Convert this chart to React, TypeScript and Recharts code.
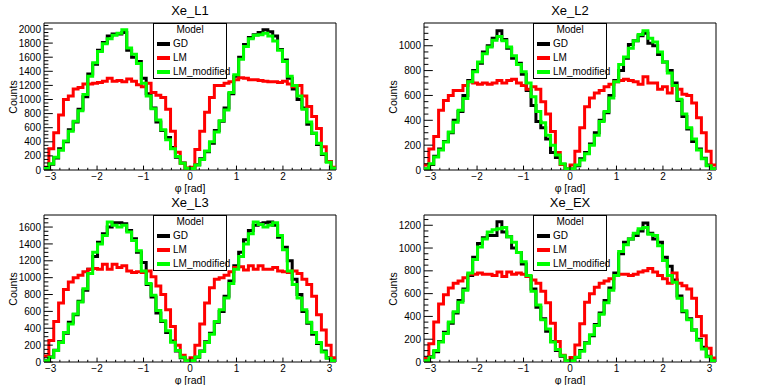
import React from 'react';
import { LineChart, Line, XAxis, YAxis, ReferenceArea } from 'recharts';

// ---------- data (60 bins from -pi to pi) ----------
const N_BINS = 60;
const X_MINOR_STEP = 0.2;
const SERIES_NAMES = ['GD', 'LM', 'LM_modified'];
const SERIES_COLORS = ['#000000', '#ff0000', '#00ff00'];
const PANEL_TITLES = ['Xe_L1', 'Xe_L2', 'Xe_L3', 'Xe_EX'];
const PANEL_YMAX = [2085, 1183, 1743, 1290];
const PANEL_YMAJOR = [200, 200, 200, 200];
const PANEL_YMINOR = [50, 50, 50, 50];

const L1_GD = [25, 80, 170, 300, 400, 570, 680, 860, 1040, 1360, 1500, 1700, 1810, 1900, 1930, 1930, 1950, 1700, 1600, 1540, 1300, 1080, 880, 680, 560, 460, 320, 180, 100, 20,
  15, 75, 160, 260, 380, 560, 690, 880, 1080, 1330, 1600, 1780, 1880, 1920, 1950, 1990, 1960, 1900, 1710, 1560, 1300, 1150, 1000, 880, 650, 520, 360, 220, 120, 25];
const L1_LM = [40, 300, 530, 780, 1000, 1050, 1150, 1170, 1220, 1220, 1230, 1240, 1260, 1300, 1260, 1270, 1250, 1290, 1260, 1210, 1180, 1230, 1100, 1060, 1030, 860, 550, 250, 95, 30,
  40, 290, 550, 820, 1030, 1200, 1200, 1230, 1250, 1280, 1310, 1300, 1280, 1280, 1270, 1260, 1250, 1250, 1240, 1260, 1220, 1180, 1200, 1050, 900, 760, 590, 330, 120, 40];
const L1_LMM = [30, 90, 180, 280, 410, 550, 690, 840, 1070, 1330, 1520, 1680, 1790, 1860, 1910, 1940, 1990, 1730, 1640, 1510, 1230, 1050, 870, 710, 570, 430, 300, 190, 95, 25,
  20, 70, 150, 270, 400, 540, 700, 850, 1100, 1350, 1570, 1750, 1860, 1910, 1920, 1940, 1900, 1830, 1700, 1540, 1330, 1200, 1050, 860, 680, 520, 380, 230, 110, 30];

const L2_GD = [8, 45, 110, 170, 230, 300, 400, 470, 600, 720, 800, 860, 950, 1000, 1060, 1120, 1050, 980, 900, 860, 770, 640, 520, 390, 340, 250, 140, 100, 45, 8,
  8, 35, 90, 140, 210, 300, 400, 460, 600, 720, 800, 900, 1010, 1040, 1080, 1100, 1020, 1000, 930, 870, 800, 700, 560, 430, 330, 230, 170, 95, 40, 8];
const L2_LM = [40, 170, 270, 480, 560, 600, 640, 640, 680, 710, 700, 690, 700, 690, 700, 720, 700, 720, 730, 700, 680, 650, 670, 650, 550, 450, 310, 140, 45, 12,
  40, 150, 340, 510, 580, 620, 640, 670, 690, 710, 720, 730, 720, 710, 690, 750, 700, 700, 650, 670, 620, 680, 650, 610, 600, 540, 420, 300, 150, 40];
const L2_LMM = [10, 50, 105, 160, 225, 305, 385, 480, 575, 710, 790, 870, 935, 990, 1045, 1075, 1040, 990, 920, 850, 790, 700, 590, 470, 380, 280, 200, 120, 50, 10,
  10, 40, 80, 130, 200, 280, 390, 470, 580, 710, 850, 910, 980, 1040, 1090, 1120, 1060, 1030, 950, 870, 780, 680, 570, 450, 340, 250, 160, 90, 35, 10];

const L3_GD = [14, 60, 140, 240, 340, 470, 560, 720, 850, 1100, 1250, 1420, 1520, 1600, 1650, 1650, 1640, 1560, 1460, 1300, 1180, 920, 770, 580, 480, 350, 250, 130, 50, 14,
  15, 55, 130, 240, 340, 470, 600, 780, 960, 1140, 1300, 1450, 1560, 1620, 1640, 1650, 1660, 1620, 1480, 1360, 1200, 980, 800, 600, 460, 330, 220, 130, 50, 15];
const L3_LM = [70, 255, 480, 700, 860, 950, 1000, 1030, 1070, 1100, 1110, 1100, 1160, 1100, 1160, 1120, 1140, 1080, 1060, 1070, 1060, 1080, 1010, 900, 800, 620, 420, 200, 80, 20,
  50, 200, 450, 700, 880, 980, 1000, 1030, 1070, 1120, 1130, 1090, 1140, 1100, 1140, 1100, 1100, 1120, 1080, 1070, 1060, 1080, 1050, 980, 920, 780, 560, 380, 200, 50];
const L3_LMM = [16, 55, 135, 230, 350, 450, 570, 710, 870, 1050, 1300, 1400, 1500, 1660, 1620, 1600, 1620, 1540, 1440, 1320, 1080, 930, 790, 610, 490, 370, 235, 135, 55, 16,
  18, 58, 125, 230, 330, 480, 620, 760, 930, 1100, 1250, 1400, 1520, 1660, 1630, 1600, 1620, 1650, 1500, 1330, 1080, 920, 760, 620, 470, 350, 230, 120, 45, 15];

const EX_GD = [10, 45, 90, 180, 260, 340, 430, 540, 640, 760, 920, 1040, 1090, 1110, 1110, 1230, 1140, 1100, 1000, 960, 860, 750, 640, 480, 380, 270, 180, 100, 50, 10,
  10, 40, 100, 170, 230, 330, 430, 540, 650, 780, 950, 1050, 1080, 1110, 1150, 1220, 1130, 1080, 1050, 920, 840, 720, 580, 440, 380, 280, 200, 130, 50, 10];
const EX_LM = [35, 160, 350, 510, 590, 650, 690, 710, 740, 770, 770, 780, 770, 770, 760, 790, 750, 790, 770, 780, 770, 750, 720, 690, 620, 520, 340, 180, 60, 12,
  40, 150, 335, 525, 600, 655, 690, 710, 730, 760, 770, 770, 760, 770, 790, 800, 820, 790, 760, 730, 690, 780, 690, 670, 640, 560, 400, 230, 120, 35];
const EX_LMM = [12, 41, 100, 175, 250, 350, 440, 525, 630, 780, 900, 1010, 1080, 1140, 1160, 1170, 1180, 1100, 1050, 960, 880, 760, 620, 500, 370, 290, 175, 110, 55, 12,
  12, 42, 95, 165, 240, 320, 420, 520, 630, 760, 970, 1030, 1080, 1130, 1170, 1180, 1120, 1110, 1020, 890, 760, 700, 560, 450, 370, 280, 190, 115, 45, 12];

const PANEL_SERIES = [
  [L1_GD, L1_LM, L1_LMM],
  [L2_GD, L2_LM, L2_LMM],
  [L3_GD, L3_LM, L3_LMM],
  [EX_GD, EX_LM, EX_LMM],
];

// ---------- layout ----------
const PAD_W = 381;
const PAD_H = 192;
const PAD_POS = [
  [0, 0],
  [380, 0],
  [0, 192],
  [380, 192],
];
const Y_AXIS_W = 44;
const X_AXIS_H = 22;
const M = { top: 23, right: 45, bottom: 0, left: 0 };
const FONT = "'Liberation Sans', Arial, Helvetica, sans-serif";
const TICK_MARGIN = 3;

function buildData(series: number[][]) {
  const rows: any[] = [];
  const w = (2 * Math.PI) / N_BINS;
  for (let i = 0; i <= N_BINS; i++) {
    const k = Math.min(i, N_BINS - 1);
    rows.push({ phi: -Math.PI + i * w, gd: series[0][k], lm: series[1][k], lmm: series[2][k] });
  }
  return rows;
}

function fmtX(v: number) {
  const r = Math.round(v);
  return r < 0 ? '\u2212' + Math.abs(r) : String(r);
}

function XTick(props: any) {
  const { x, y, payload } = props;
  const v = payload.value;
  const major = Math.abs(v - Math.round(v)) < 1e-6;
  const y0 = y - TICK_MARGIN;
  const len = major ? 4.4 : 2.2;
  return (
    <g>
      <line x1={x} x2={x} y1={y0} y2={y0 - len} stroke="#000" strokeWidth={1} />
      {major && (
        <text x={x} y={y} dy="0.65em" textAnchor="middle" fontSize={10} fontFamily={FONT} fill="#000">
          {fmtX(v)}
        </text>
      )}
    </g>
  );
}

function makeYTick(majorStep: number) {
  return function YTick(props: any) {
    const { x, y, payload } = props;
    const v = payload.value;
    const major = Math.abs(v / majorStep - Math.round(v / majorStep)) < 1e-6;
    const x0 = x + TICK_MARGIN;
    const len = major ? 8.8 : 4.4;
    return (
      <g>
        <line x1={x0} x2={x0 + len} y1={y} y2={y} stroke="#000" strokeWidth={1} />
        {major && (
          <text x={x} y={y} dy="0.36em" textAnchor="end" fontSize={10} fontFamily={FONT} fill="#000">
            {String(v)}
          </text>
        )}
      </g>
    );
  };
}

function Legend() {
  const rows = SERIES_NAMES.map((n, i) => ({ n, c: SERIES_COLORS[i] }));
  return (
    <div
      style={{
        position: 'absolute',
        left: 153,
        top: 23,
        width: 74,
        height: 56,
        border: '1px solid #000',
        background: '#fff',
        boxSizing: 'border-box',
        fontFamily: FONT,
        fontSize: 10,
        color: '#000',
      }}
    >
      <div style={{ position: 'absolute', left: 0, right: 0, top: 0, textAlign: 'center', lineHeight: '12px' }}>Model</div>
      {rows.map((r, i) => (
        <div key={r.n} style={{ position: 'absolute', left: 3, top: 14 + i * 14, height: 12, whiteSpace: 'nowrap' }}>
          <div style={{ position: 'absolute', left: 0, top: 4, width: 13, height: 3.5, background: r.c }} />
          <div style={{ position: 'absolute', left: 16, top: 0, lineHeight: '12px' }}>{r.n}</div>
        </div>
      ))}
    </div>
  );
}

function Panel({ idx }: { idx: number }) {
  const [px, py] = PAD_POS[idx];
  const yMax = PANEL_YMAX[idx];
  const majorStep = PANEL_YMAJOR[idx];
  const minorStep = PANEL_YMINOR[idx];
  const data = buildData(PANEL_SERIES[idx]);
  const yTicks: number[] = [];
  for (let v = 0; v <= yMax + 1e-6; v += minorStep) yTicks.push(v);
  const xTicks: number[] = [];
  for (let k = -15; k <= 15; k++) xTicks.push(Math.round(k * X_MINOR_STEP * 1000) / 1000);
  const frameL = Y_AXIS_W;
  const frameW = PAD_W - Y_AXIS_W - M.right;
  const frameCx = frameL + frameW / 2;
  const frameCy = M.top + (PAD_H - M.top - X_AXIS_H) / 2;
  const YTick = makeYTick(majorStep);
  return (
    <div style={{ position: 'absolute', left: px, top: py, width: PAD_W, height: PAD_H }}>
      <LineChart width={PAD_W} height={PAD_H} data={data} margin={M}>
        <XAxis
          dataKey="phi"
          type="number"
          domain={[-Math.PI, Math.PI]}
          ticks={xTicks}
          interval={0}
          tickSize={0}
          tickMargin={TICK_MARGIN}
          tickLine={false}
          axisLine={false}
          tick={(p: any) => <XTick {...p} />}
          height={X_AXIS_H}
          allowDataOverflow
        />
        <YAxis
          type="number"
          domain={[0, yMax]}
          ticks={yTicks}
          interval={0}
          tickSize={0}
          tickMargin={TICK_MARGIN}
          tickLine={false}
          axisLine={false}
          tick={(p: any) => <YTick {...p} />}
          width={Y_AXIS_W}
          allowDataOverflow
        />
        <ReferenceArea x1={-Math.PI} x2={Math.PI} y1={0} y2={yMax} fill="none" stroke="#000" strokeWidth={1} />
        <Line dataKey="gd" type="stepAfter" stroke={SERIES_COLORS[0]} strokeWidth={3} dot={false} isAnimationActive={false} strokeLinejoin="miter" strokeLinecap="butt" />
        <Line dataKey="lm" type="stepAfter" stroke={SERIES_COLORS[1]} strokeWidth={3} dot={false} isAnimationActive={false} strokeLinejoin="miter" strokeLinecap="butt" />
        <Line dataKey="lmm" type="stepAfter" stroke={SERIES_COLORS[2]} strokeWidth={3} dot={false} isAnimationActive={false} strokeLinejoin="miter" strokeLinecap="butt" />
      </LineChart>
      <div
        style={{
          position: 'absolute',
          left: frameCx - 40,
          width: 80,
          top: 3,
          textAlign: 'center',
          fontFamily: FONT,
          fontSize: 13,
          lineHeight: '15px',
          color: '#000',
        }}
      >
        {PANEL_TITLES[idx]}
      </div>
      <div
        style={{
          position: 'absolute',
          left: frameCx - 40,
          width: 80,
          top: 181.5,
          textAlign: 'center',
          fontFamily: FONT,
          fontSize: 10.5,
          lineHeight: '12px',
          color: '#000',
        }}
      >
        {'\u03c6 [rad]'}
      </div>
      <div
        style={{
          position: 'absolute',
          left: 12.5,
          top: frameCy,
          width: 60,
          marginLeft: -30,
          marginTop: -6,
          textAlign: 'center',
          fontFamily: FONT,
          fontSize: 10.5,
          lineHeight: '12px',
          color: '#000',
          transform: 'rotate(-90deg)',
        }}
      >
        Counts
      </div>
      <Legend />
    </div>
  );
}

export default function App() {
  return (
    <div style={{ position: 'absolute', left: 0, top: 0, width: 762, height: 385, background: '#fff' }}>
      {[0, 1, 2, 3].map((i) => (
        <Panel key={i} idx={i} />
      ))}
    </div>
  );
}
